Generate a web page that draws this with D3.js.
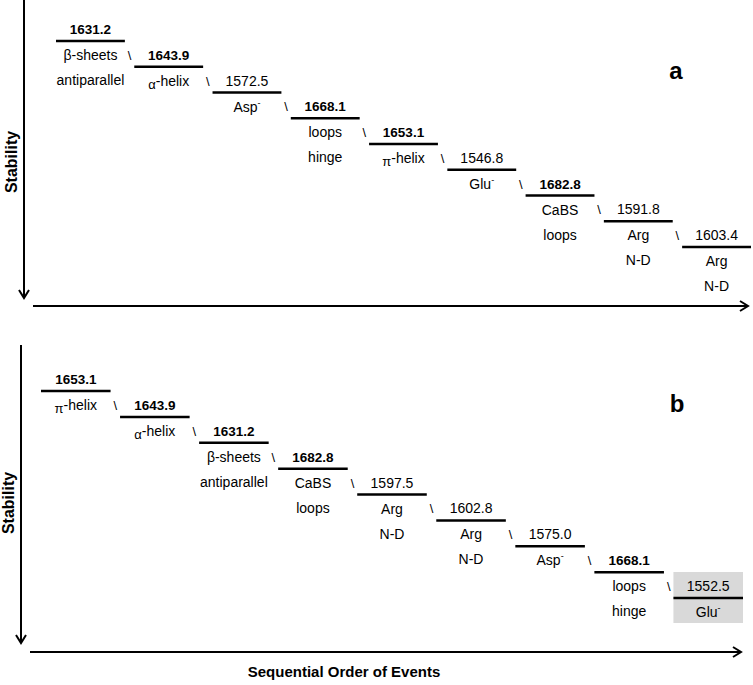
<!DOCTYPE html>
<html><head><meta charset="utf-8">
<script src="https://cdn.jsdelivr.net/npm/d3@7/dist/d3.min.js"></script>
<style>
html,body{margin:0;padding:0;background:#fff;}
text{font-family:"Liberation Sans",Arial,sans-serif;fill:#000;}
</style></head>
<body>
<script>
// ---- data ----
const stepIndex = [0,1,2,3,4,5,6,7,8];
const panelAValues = [1631.2, 1643.9, 1572.5, 1668.1, 1653.1, 1546.8, 1682.8, 1591.8, 1603.4];
const panelABold   = [true, true, false, true, true, false, true, false, false];
const panelALabels = [["β-sheets","antiparallel"],["α-helix"],["Asp^-"],["loops","hinge"],["π-helix"],["Glu^-"],["CaBS","loops"],["Arg","N-D"],["Arg","N-D"]];
const panelBValues = [1653.1, 1643.9, 1631.2, 1682.8, 1597.5, 1602.8, 1575.0, 1668.1, 1552.5];
const panelBBold   = [true, true, true, true, false, false, false, true, false];
const panelBLabels = [["π-helix"],["α-helix"],["β-sheets","antiparallel"],["CaBS","loops"],["Arg","N-D"],["Arg","N-D"],["Asp^-"],["loops","hinge"],["Glu^-"]];
const panelBHighlight = [8];
const panelNames = ["a","b"];
const yAxisTitle = "Stability";
const xAxisTitle = "Sequential Order of Events";

const W = 753, H = 685;
const svg = d3.select("body").append("svg").attr("width", W).attr("height", H);

function arrowDown(g, x, y0, y1){
  g.append("line").attr("x1",x).attr("x2",x).attr("y1",y0).attr("y2",y1)
    .attr("stroke","#000").attr("stroke-width",2);
  g.append("path").attr("d",`M${x-5},${y1-8}L${x},${y1}L${x+5},${y1-8}`)
    .attr("fill","none").attr("stroke","#000").attr("stroke-width",2);
}
function arrowRight(g, y, x0, x1){
  g.append("line").attr("x1",x0).attr("x2",x1).attr("y1",y).attr("y2",y)
    .attr("stroke","#000").attr("stroke-width",2);
  g.append("path").attr("d",`M${x1-8},${y-5}L${x1},${y}L${x1-8},${y+5}`)
    .attr("fill","none").attr("stroke","#000").attr("stroke-width",2);
}

function writeLabel(t, s){
  let m = s.match(/^([απ])(.*)$/);
  if (m){
    t.append("tspan").attr("dy",3).attr("font-size","13px").text(m[1]);
    t.append("tspan").attr("dy",-3).text(m[2]);
    return;
  }
  m = s.match(/^(.*)\^(.)$/);
  if (m){
    t.append("tspan").text(m[1]);
    t.append("tspan").attr("dy",-6).attr("font-size","9px").text(m[2]);
    return;
  }
  t.text(s);
}

function drawPanel(cfg){
  const g = svg.append("g");
  const x = d3.scaleBand().domain(stepIndex).range(cfg.xRange).paddingInner(0.12);
  const y = d3.scaleLinear().domain([0, stepIndex.length-1]).range(cfg.yRange);
  const bw = x.bandwidth();

  arrowDown(g, cfg.yAxisX, cfg.yAxisTop, cfg.yAxisBottom);
  arrowRight(g, cfg.xAxisY, cfg.xAxisLeft, cfg.xAxisRight);

  g.append("text").attr("transform",`translate(${cfg.titleX},${cfg.titleY}) rotate(-90)`)
    .attr("text-anchor","middle").attr("font-weight","bold").attr("font-size","16px").text(yAxisTitle);

  g.append("text").attr("x",cfg.nameX).attr("y",cfg.nameY).attr("text-anchor","middle")
    .attr("font-weight","bold").attr("font-size","24px").text(cfg.name);

  // highlight boxes
  g.selectAll("rect.hl").data(cfg.highlight).enter().append("rect")
    .attr("x", i => x(i)).attr("width", bw)
    .attr("y", i => y(i) - 26).attr("height", 51)
    .attr("fill","#d9d9d9");

  const steps = g.selectAll("g.step").data(stepIndex).enter().append("g");
  steps.append("line")
    .attr("x1", i => x(i)).attr("x2", i => x(i)+bw)
    .attr("y1", i => y(i)).attr("y2", i => y(i))
    .attr("stroke","#000").attr("stroke-width",2.5);
  steps.append("text")
    .attr("x", i => x(i)+bw/2).attr("y", i => y(i)-7)
    .attr("text-anchor","middle")
    .attr("font-size", i => cfg.bold[i] ? "13.5px" : "14px")
    .attr("font-weight", i => cfg.bold[i] ? "bold" : "normal")
    .text(i => cfg.values[i].toFixed(1));
  steps.each(function(i){
    const sg = d3.select(this);
    cfg.labels[i].forEach((s, k) => {
      const t = sg.append("text").attr("x", x(i)+bw/2).attr("y", y(i)+19+25*k)
        .attr("text-anchor","middle").attr("font-size","14px");
      writeLabel(t, s);
    });
  });
  // separators
  g.selectAll("text.sep").data(stepIndex.slice(1)).enter().append("text")
    .attr("x", i => (x(i-1)+bw + x(i))/2).attr("y", i => y(i)-7)
    .attr("text-anchor","middle").attr("font-size","13px").text("\\");
}

drawPanel({name:panelNames[0], values:panelAValues, bold:panelABold, labels:panelALabels, highlight:[],
  xRange:[56,751], yRange:[41,247], yAxisX:24, yAxisTop:0, yAxisBottom:298,
  xAxisY:306, xAxisLeft:33, xAxisRight:748, titleX:17, titleY:162, nameX:676, nameY:79});
drawPanel({name:panelNames[1], values:panelBValues, bold:panelBBold, labels:panelBLabels, highlight:panelBHighlight,
  xRange:[41,743], yRange:[391,598], yAxisX:21, yAxisTop:345, yAxisBottom:643,
  xAxisY:652, xAxisLeft:30, xAxisRight:741, titleX:14, titleY:503, nameX:677, nameY:412});

svg.append("text").attr("x",344).attr("y",677).attr("text-anchor","middle")
  .attr("font-weight","bold").attr("font-size","15px").text(xAxisTitle);
</script>
</body></html>
